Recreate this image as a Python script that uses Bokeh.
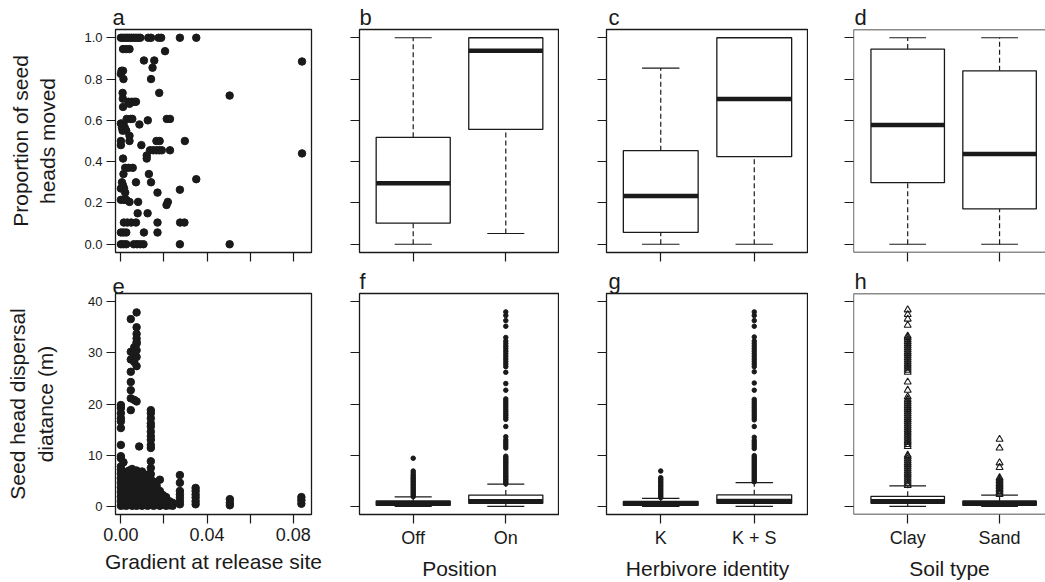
from bokeh.plotting import figure
from bokeh.layouts import row, column
from bokeh.models import Range1d, FixedTicker, PrintfTickFormatter, Span
from bokeh.embed import file_html
from bokeh.resources import INLINE

# ---------------- data ----------------
grad_ticks_all = [0.0, 0.02, 0.04, 0.06, 0.08]
grad_ticks_labelled = [0.0, 0.04, 0.08]
grad_ticks_unlabelled = [0.02, 0.06]
prop_ticks = [0.0, 0.2, 0.4, 0.6, 0.8, 1.0]
dist_ticks = [0, 10, 20, 30, 40]
group_pos = [1, 2]

position_cats = ["Off", "On"]
herbivore_cats = ["K", "K + S"]
soil_cats = ["Clay", "Sand"]

# panel a: proportion moved vs gradient, grouped by proportion value
a_row_y = [1.000, 0.945, 0.935, 0.890, 0.885, 0.855, 0.840, 0.825, 0.800, 0.733, 0.720,
           0.705, 0.690, 0.680, 0.665, 0.607, 0.600, 0.585, 0.580, 0.565, 0.550, 0.525,
           0.500, 0.480, 0.455, 0.440, 0.430, 0.415, 0.370, 0.340, 0.315, 0.300, 0.285,
           0.270, 0.264, 0.250, 0.215, 0.205, 0.190, 0.150, 0.105, 0.057, 0.000]
a_row_x = [
    [0.0000, 0.0010, 0.0020, 0.0030, 0.0040, 0.0050, 0.0060, 0.0070, 0.0080, 0.0090,
     0.0127, 0.0140, 0.0175, 0.0187, 0.0274, 0.0350],
    [0.0010, 0.0025, 0.0040],
    [0.0205],
    [0.0107, 0.0155],
    [0.0841],
    [0.0147],
    [0.0003, 0.0010],
    [0.0000],
    [0.0012, 0.0140],
    [0.0008, 0.0178],
    [0.0505],
    [0.0009],
    [0.0035, 0.0050, 0.0062, 0.0070],
    [0.0040],
    [0.0010],
    [0.0027, 0.0045, 0.0053, 0.0213, 0.0228],
    [0.0125],
    [0.0000, 0.0012],
    [0.0086],
    [0.0005, 0.0018],
    [0.0008, 0.0025],
    [0.0040],
    [0.0000, 0.0040, 0.0165, 0.0180, 0.0297],
    [0.0000, 0.0095],
    [0.0135, 0.0150, 0.0165, 0.0178, 0.0190, 0.0228],
    [0.0841],
    [0.0120],
    [0.0010, 0.0120],
    [0.0020, 0.0035, 0.0055],
    [0.0012, 0.0130],
    [0.0350],
    [0.0005, 0.0070, 0.0140],
    [0.0010],
    [0.0000, 0.0015],
    [0.0274],
    [0.0020, 0.0170],
    [0.0000, 0.0015, 0.0025],
    [0.0040, 0.0080, 0.0218],
    [0.0212],
    [0.0078, 0.0124],
    [0.0014, 0.0030, 0.0048, 0.0070, 0.0170, 0.0275, 0.0295],
    [0.0000, 0.0012, 0.0025, 0.0107, 0.0170],
    [0.0000, 0.0012, 0.0025, 0.0060, 0.0075, 0.0090, 0.0105, 0.0274, 0.0505],
]

# panel e: dispersal distance vs gradient, grouped by site gradient
e_site_x = [0.0000, 0.0012, 0.0025, 0.0038, 0.0046, 0.0052, 0.0062, 0.0073, 0.0085,
            0.0098, 0.0110, 0.0124, 0.0139, 0.0152, 0.0166, 0.0181, 0.0195, 0.0210,
            0.0225, 0.0240, 0.0274, 0.0347, 0.0506, 0.0838]
e_site_dist = [
    [0.1, 1.0, 1.9, 2.8, 3.7, 4.6, 5.5, 6.4, 7.2, 7.8, 9.4, 9.8, 12.0, 15.3, 16.6, 17.2, 18.2, 19.2, 19.8],
    [0.2, 1.2, 2.2, 3.2, 4.2, 5.2, 6.0, 6.8, 8.6],
    [0.1, 1.0, 2.0, 3.0, 4.0, 5.0, 6.1],
    [0.3, 1.3, 2.3, 3.3, 4.3, 5.3, 6.3, 7.0],
    [18.8, 21.1, 22.7, 24.3, 26.3, 28.7, 30.2, 36.6],
    [0.1, 1.0, 2.0, 3.0, 4.0, 5.0, 6.0, 7.3],
    [0.4, 1.4, 2.4, 3.4, 4.4, 5.4, 6.6, 20.8, 28.2, 29.8, 31.1],
    [0.1, 1.1, 2.1, 3.1, 4.1, 5.1, 6.2, 7.0, 20.5, 27.4, 29.2, 30.5, 31.8, 32.1, 32.8, 33.7, 35.0, 37.9],
    [0.3, 1.3, 2.3, 3.3, 4.3, 5.3, 6.4, 11.7],
    [0.1, 1.0, 2.0, 3.0, 4.0, 5.0, 6.0, 6.8],
    [0.4, 1.4, 2.4, 3.4, 4.4, 5.6],
    [0.1, 1.1, 2.1, 3.1, 4.1, 5.1, 6.2],
    [0.3, 1.3, 2.3, 3.3, 4.3, 5.3, 6.3, 7.5, 8.8, 11.4, 12.0, 13.0, 13.7, 14.6, 15.6, 16.2, 17.2, 18.2, 18.8],
    [0.1, 1.0, 2.0, 3.0, 4.0, 4.8],
    [0.3, 1.2, 2.2, 3.2, 4.0],
    [0.1, 1.0, 2.0, 3.0, 5.2],
    [0.3, 1.2, 2.2],
    [0.1, 1.0, 1.8],
    [0.2, 1.0],
    [0.1, 0.7],
    [0.4, 1.0, 1.7, 2.3, 3.0, 4.6, 6.1],
    [0.4, 1.0, 1.7, 2.3, 3.0, 3.6],
    [0.2, 0.7, 1.4],
    [0.5, 1.2, 1.8],
]

# box statistics: proportion of seed heads moved (lo whisker, Q1, median, Q3, hi whisker)
pos_prop_lo = [0.0, 0.052]
pos_prop_q1 = [0.102, 0.556]
pos_prop_med = [0.295, 0.937]
pos_prop_q3 = [0.518, 1.0]
pos_prop_hi = [1.0, 1.0]

herb_prop_lo = [0.0, 0.0]
herb_prop_q1 = [0.057, 0.424]
herb_prop_med = [0.234, 0.704]
herb_prop_q3 = [0.453, 1.0]
herb_prop_hi = [0.853, 1.0]

soil_prop_lo = [0.0, 0.0]
soil_prop_q1 = [0.298, 0.171]
soil_prop_med = [0.578, 0.437]
soil_prop_q3 = [0.945, 0.840]
soil_prop_hi = [1.0, 1.0]

# box statistics: dispersal distance (m)
pos_dist_lo = [0.0, 0.0]
pos_dist_q1 = [0.2, 0.6]
pos_dist_med = [0.6, 1.0]
pos_dist_q3 = [1.05, 2.2]
pos_dist_hi = [1.85, 4.35]

herb_dist_lo = [0.0, 0.0]
herb_dist_q1 = [0.2, 0.6]
herb_dist_med = [0.6, 1.05]
herb_dist_q3 = [0.95, 2.25]
herb_dist_hi = [1.55, 4.65]

soil_dist_lo = [0.0, 0.0]
soil_dist_q1 = [0.6, 0.2]
soil_dist_med = [1.0, 0.6]
soil_dist_q3 = [1.95, 1.05]
soil_dist_hi = [4.0, 2.2]

# outliers (m)
pos_off_out = [1.9, 2.2, 2.5, 2.8, 3.1, 3.4, 3.7, 4.0, 4.3, 4.6, 4.9, 5.2, 5.5, 5.8, 6.1, 6.5, 6.9, 9.4]
pos_on_out = [4.4, 4.7, 5.0, 5.3, 5.6, 5.9, 6.2, 6.5, 6.8, 7.1, 7.4, 7.7, 8.0, 8.3, 8.6, 8.9, 9.2,
              9.5, 9.8, 11.4, 11.8, 12.2, 12.6, 13.0, 13.6, 15.6, 17.0, 17.4, 17.8, 18.2, 18.6,
              19.0, 19.4, 19.8, 20.2, 20.6, 21.0, 22.7, 24.0, 26.2, 27.3, 27.8, 28.3, 28.8, 29.3,
              29.8, 30.3, 30.8, 31.3, 31.8, 32.3, 33.0, 35.2, 36.3, 37.3, 38.0]
herb_k_out = [1.7, 2.0, 2.3, 2.6, 2.9, 3.2, 3.5, 3.8, 4.1, 4.4, 4.7, 5.0, 5.3, 5.6, 6.9]
herb_ks_out = [4.8, 5.1, 5.4, 5.7, 6.0, 6.3, 6.6, 6.9, 7.2, 7.5, 7.8, 8.1, 8.4, 8.7, 9.0, 9.3,
               9.6, 9.9, 11.3, 11.7, 12.1, 12.5, 12.9, 13.5, 15.6, 16.9, 17.3, 17.7, 18.1, 18.5,
               18.9, 19.3, 19.7, 20.1, 20.5, 20.9, 22.7, 24.1, 26.3, 27.3, 27.8, 28.3, 28.8, 29.3,
               29.8, 30.3, 30.8, 31.3, 31.8, 32.3, 33.1, 35.2, 36.3, 37.3, 38.0]
soil_clay_out = [4.1, 4.5, 4.9, 5.3, 5.7, 6.1, 6.5, 6.9, 7.3, 7.7, 8.1, 8.5, 8.9, 9.3, 9.7, 10.0,
                 11.7, 12.1, 12.5, 12.9, 13.3, 13.7, 14.1, 14.5, 14.9, 15.3, 15.7, 16.1, 16.5,
                 16.9, 17.3, 17.7, 18.1, 18.5, 18.9, 19.3, 19.7, 20.1, 20.5, 20.9, 21.4, 22.7,
                 24.3, 26.2, 26.6, 27.0, 27.4, 27.8, 28.2, 28.6, 29.0, 29.4, 29.8, 30.2, 30.6,
                 31.0, 31.4, 31.8, 32.2, 32.6, 33.0, 33.3, 35.4, 36.6, 37.5, 38.4]
soil_sand_out = [2.3, 2.6, 2.9, 3.2, 3.5, 3.8, 4.1, 4.4, 4.7, 5.0, 5.3, 5.6, 7.6, 8.5, 11.4, 13.1]

# ---------------- styling ----------------
FONT = "Liberation Sans"
INK = "#1a1a1a"
TOP_H, BOT_H = 264, 318


def style_axis(ax, ticks, show_labels, label_size, minor=None):
    ax.axis_line_color = None
    for pre in ("major", "minor"):
        setattr(ax, pre + "_tick_out", 9)
        setattr(ax, pre + "_tick_in", 0)
        setattr(ax, pre + "_tick_line_color", INK)
        setattr(ax, pre + "_tick_line_width", 1.2)
    if show_labels:
        ax.ticker = FixedTicker(ticks=ticks, minor_ticks=minor or [])
    else:
        # ticks without labels: draw them as minor ticks of full length
        ax.ticker = FixedTicker(ticks=[], minor_ticks=ticks)
    ax.major_label_text_font = FONT
    ax.major_label_text_color = INK
    ax.major_label_text_font_size = label_size
    ax.major_label_standoff = 4
    ax.axis_label_text_font = FONT
    ax.axis_label_text_font_style = "normal"
    ax.axis_label_text_font_size = "21px"
    ax.axis_label_text_color = INK


def make_fig(width, height, xr, yr, left, right, top, bottom, letter, offset, open_right=False):
    p = figure(width=width, height=height, x_range=Range1d(*xr), y_range=Range1d(*yr),
               output_backend="svg", toolbar_location=None, tools="",
               min_border_left=left, min_border_right=right,
               min_border_top=top, min_border_bottom=bottom,
               background_fill_color="white", border_fill_color="white")
    p.xgrid.visible = False
    p.ygrid.visible = False
    p.outline_line_color = INK
    p.outline_line_width = 1.3
    p.title.text = letter
    p.title.text_font = FONT
    p.title.text_font_size = "22px"
    p.title.text_font_style = "normal"
    p.title.text_color = INK
    p.title.align = "left"
    p.title.offset = offset
    p.title.standoff = 0
    if open_right:
        # the reference crops the right edge of the last column
        p.outline_line_color = None
        p.add_layout(Span(location=yr[1], dimension="width", line_color=INK, line_width=1.3))
        p.add_layout(Span(location=yr[0], dimension="width", line_color=INK, line_width=1.3))
        p.add_layout(Span(location=xr[0], dimension="height", line_color=INK, line_width=1.3))
    return p


def draw_boxes(p, lo, q1, med, q3, hi):
    half, cap = 0.4, 0.2
    xs = group_pos
    p.segment(x0=xs, y0=q3, x1=xs, y1=hi, line_color=INK, line_width=1.2, line_dash="5 3")
    p.segment(x0=xs, y0=lo, x1=xs, y1=q1, line_color=INK, line_width=1.2, line_dash="5 3")
    p.segment(x0=[x - cap for x in xs], y0=hi, x1=[x + cap for x in xs], y1=hi,
              line_color=INK, line_width=1.2)
    p.segment(x0=[x - cap for x in xs], y0=lo, x1=[x + cap for x in xs], y1=lo,
              line_color=INK, line_width=1.2)
    p.quad(left=[x - half for x in xs], right=[x + half for x in xs], bottom=q1, top=q3,
           fill_color="white", line_color=INK, line_width=1.3)
    p.segment(x0=[x - half for x in xs], y0=med, x1=[x + half for x in xs], y1=med,
              line_color=INK, line_width=4.5)


def draw_outliers(p, pos, values, marker="dot"):
    if marker == "triangle":
        p.scatter(x=[pos] * len(values), y=values, marker="triangle", size=7,
                  fill_color=None, line_color=INK, line_width=1.1)
    else:
        p.scatter(x=[pos] * len(values), y=values, marker="circle", size=4.5,
                  fill_color=INK, line_color=INK)


PROP_R = (-0.04, 1.04)
DIST_R = (-1.6, 41.6)
GRAD_R = (-0.0025, 0.0885)
BOX_R = (0.42, 2.58)
BOX_R_LAST = (0.41, 2.50)

# column geometry: (width, left border, right border)
COL_A = (331, 115, 20)
COL_B = (228, 28, 0)
COL_C = (249, 47, 0)
COL_D = (237, 45, 0)

# ---- top row ----
pa = make_fig(COL_A[0], TOP_H, GRAD_R, PROP_R, COL_A[1], COL_A[2], 29, 12, "a", -3)
style_axis(pa.xaxis[0], grad_ticks_all, False, "18px")
style_axis(pa.yaxis[0], prop_ticks, True, "13px")
pa.yaxis[0].formatter = PrintfTickFormatter(format="%.1f")
pa.yaxis[0].axis_label = "Proportion of seed\nheads moved"
pa.yaxis[0].axis_label_standoff = 22
ax_pts, ay_pts = [], []
for yv, xl in zip(a_row_y, a_row_x):
    for xv in xl:
        ax_pts.append(xv)
        ay_pts.append(yv)
pa.scatter(x=ax_pts, y=ay_pts, size=7.5, fill_color=INK, line_color=INK)

pb = make_fig(COL_B[0], TOP_H, BOX_R, PROP_R, COL_B[1], COL_B[2], 29, 12, "b", 0)
style_axis(pb.xaxis[0], group_pos, False, "18px")
style_axis(pb.yaxis[0], prop_ticks, False, "13px")
draw_boxes(pb, pos_prop_lo, pos_prop_q1, pos_prop_med, pos_prop_q3, pos_prop_hi)

pc = make_fig(COL_C[0], TOP_H, BOX_R, PROP_R, COL_C[1], COL_C[2], 29, 12, "c", 2)
style_axis(pc.xaxis[0], group_pos, False, "18px")
style_axis(pc.yaxis[0], prop_ticks, False, "13px")
draw_boxes(pc, herb_prop_lo, herb_prop_q1, herb_prop_med, herb_prop_q3, herb_prop_hi)

pd = make_fig(COL_D[0], TOP_H, BOX_R_LAST, PROP_R, COL_D[1], COL_D[2], 29, 12, "d", 1, open_right=True)
style_axis(pd.xaxis[0], group_pos, False, "18px")
style_axis(pd.yaxis[0], prop_ticks, False, "13px")
draw_boxes(pd, soil_prop_lo, soil_prop_q1, soil_prop_med, soil_prop_q3, soil_prop_hi)

# ---- bottom row ----
pe = make_fig(COL_A[0], BOT_H, GRAD_R, DIST_R, COL_A[1], COL_A[2], 29, 67, "e", -3)
style_axis(pe.xaxis[0], grad_ticks_labelled, True, "18px", minor=grad_ticks_unlabelled)
pe.xaxis[0].formatter = PrintfTickFormatter(format="%.2f")
pe.xaxis[0].axis_label = "Gradient at release site"
pe.xaxis[0].axis_label_standoff = 6
style_axis(pe.yaxis[0], dist_ticks, True, "13px")
pe.yaxis[0].axis_label = "Seed head dispersal\ndiatance (m)"
pe.yaxis[0].axis_label_standoff = 28
ex_pts, ey_pts = [], []
for xv, yl in zip(e_site_x, e_site_dist):
    for yv in yl:
        ex_pts.append(xv)
        ey_pts.append(yv)
pe.scatter(x=ex_pts, y=ey_pts, size=7.5, fill_color=INK, line_color=INK)


def cat_labels(p, cats):
    p.xaxis[0].major_label_overrides = {g: c for g, c in zip(group_pos, cats)}


pf = make_fig(COL_B[0], BOT_H, BOX_R, DIST_R, COL_B[1], COL_B[2], 29, 67, "f", 0)
style_axis(pf.xaxis[0], group_pos, True, "18px")
cat_labels(pf, position_cats)
style_axis(pf.yaxis[0], dist_ticks, False, "13px")
pf.xaxis[0].axis_label = "Position"
pf.xaxis[0].axis_label_standoff = 6
draw_boxes(pf, pos_dist_lo, pos_dist_q1, pos_dist_med, pos_dist_q3, pos_dist_hi)
draw_outliers(pf, group_pos[0], pos_off_out)
draw_outliers(pf, group_pos[1], pos_on_out)

pg = make_fig(COL_C[0], BOT_H, BOX_R, DIST_R, COL_C[1], COL_C[2], 29, 67, "g", 2)
style_axis(pg.xaxis[0], group_pos, True, "18px")
cat_labels(pg, herbivore_cats)
style_axis(pg.yaxis[0], dist_ticks, False, "13px")
pg.xaxis[0].axis_label = "Herbivore identity"
pg.xaxis[0].axis_label_standoff = 6
draw_boxes(pg, herb_dist_lo, herb_dist_q1, herb_dist_med, herb_dist_q3, herb_dist_hi)
draw_outliers(pg, group_pos[0], herb_k_out)
draw_outliers(pg, group_pos[1], herb_ks_out)

ph = make_fig(COL_D[0], BOT_H, BOX_R_LAST, DIST_R, COL_D[1], COL_D[2], 29, 67, "h", 1, open_right=True)
style_axis(ph.xaxis[0], group_pos, True, "18px")
cat_labels(ph, soil_cats)
style_axis(ph.yaxis[0], dist_ticks, False, "13px")
ph.xaxis[0].axis_label = "Soil type"
ph.xaxis[0].axis_label_standoff = 6
draw_boxes(ph, soil_dist_lo, soil_dist_q1, soil_dist_med, soil_dist_q3, soil_dist_hi)
draw_outliers(ph, group_pos[0], soil_clay_out, "triangle")
draw_outliers(ph, group_pos[1], soil_sand_out, "triangle")

layout = column(row(pa, pb, pc, pd), row(pe, pf, pg, ph))

open("out.html", "w").write(file_html(layout, INLINE))
